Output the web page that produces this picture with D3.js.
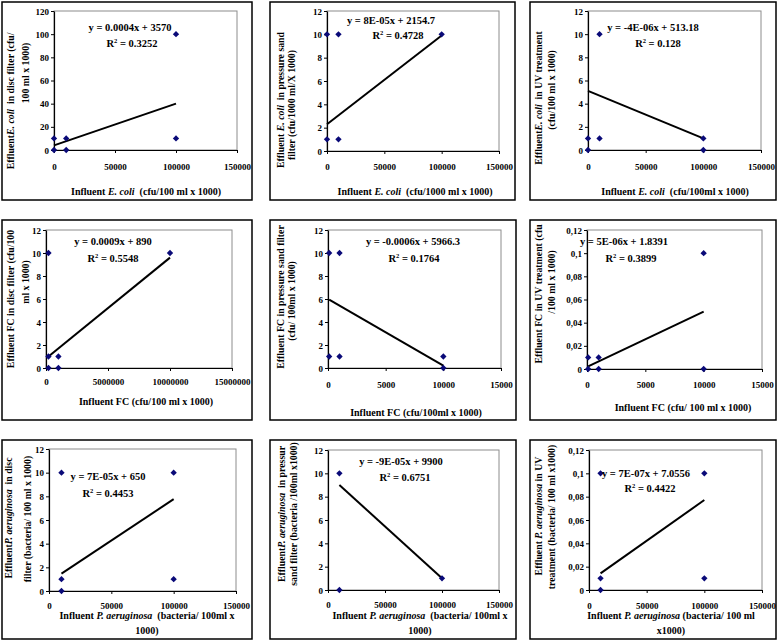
<!DOCTYPE html>
<html><head><meta charset="utf-8">
<script src="https://cdn.jsdelivr.net/npm/d3@7"></script>
<style>
body{margin:0;background:#fff}
svg{display:block}
text{font-family:"Liberation Serif","Times New Roman",serif;font-weight:bold;white-space:pre;fill:#000}
</style>
</head><body><svg id="c" width="778" height="641"></svg>
<script>
// ---------- tick values ----------
const ticksX150k = [0, 50000, 100000, 150000];
const ticksX15k = [0, 5000, 10000, 15000];
const ticksX15M = [0, 5000000, 10000000, 15000000];
const ticksY120 = [0, 20, 40, 60, 80, 100, 120];
const ticksY12 = [0, 2, 4, 6, 8, 10, 12];
const ticksY012 = [0, 0.02, 0.04, 0.06, 0.08, 0.1, 0.12];

// ---------- series (influent x, effluent y, trendline end points) ----------
const ecoliDiscX = [0, 0, 10000, 10000, 100000, 100000];
const ecoliDiscY = [10, 0, 10, 0, 100, 10];
const ecoliDiscTrend = [[0, 4], [100000, 40]];

const ecoliSandX = [0, 10000, 0, 10000, 100000];
const ecoliSandY = [10, 10, 1, 1, 10];
const ecoliSandTrend = [[0, 2.3], [100000, 9.9]];

const ecoliUvX = [0, 0, 10000, 10000, 100000, 100000];
const ecoliUvY = [1, 0, 10, 1, 1, 0];
const ecoliUvTrend = [[0, 5.1], [100000, 1.0]];

const fcDiscX = [200000, 200000, 200000, 1000000, 1000000, 10000000];
const fcDiscY = [10, 1, 0, 1, 0, 10];
const fcDiscTrend = [[200000, 1.0], [10000000, 9.6]];

const fcSandX = [100, 1000, 100, 1000, 10000, 10000];
const fcSandY = [10, 10, 1, 1, 1, 0];
const fcSandTrend = [[100, 5.95], [10000, 0.2]];

const fcUvX = [100, 100, 1000, 1000, 10000, 10000];
const fcUvY = [0.01, 0, 0.01, 0, 0.1, 0];
const fcUvTrend = [[100, 0.0023], [10000, 0.0495]];

const paDiscX = [10000, 10000, 10000, 100000, 100000];
const paDiscY = [10, 1, 0, 10, 1];
const paDiscTrend = [[10000, 1.47], [100000, 7.76]];

const paSandX = [10000, 10000, 100000];
const paSandY = [10, 0, 1];
const paSandTrend = [[10000, 9.0], [100000, 1.0]];

const paUvX = [10000, 10000, 10000, 100000, 100000];
const paUvY = [0.1, 0.01, 0, 0.1, 0.01];
const paUvTrend = [[10000, 0.0143], [100000, 0.0771]];

// ---------- text ----------
const equations = ["y = 0.0004x + 3570", "y = 8E-05x + 2154.7", "y = -4E-06x + 513.18",
  "y = 0.0009x + 890", "y = -0.0006x + 5966.3", "y = 5E-06x + 1.8391",
  "y = 7E-05x + 650", "y = -9E-05x + 9900", "y = 7E-07x + 7.0556"];
const rSquared = ["0.3252", "0.4728", "0.128", "0.5548", "0.1764", "0.3899", "0.4453", "0.6751", "0.4422"];

// segments: [text, italic]
const yTitles = [
  [[["Effluent", 0], ["E. coli", 1], ["  in disc filter (cfu/", 0]], [["100 ml x 1000)", 0]]],
  [[["Effluent ", 0], ["E. coli", 1], ["  in pressure sand", 0]], [["filter (cfu/1000 ml/X 1000)", 0]]],
  [[["Effluent", 0], ["E. coli", 1], ["  in UV treatment", 0]], [["(cfu/100 ml x 1000)", 0]]],
  [[["Effluent FC in disc filter (cfu/100", 0]], [["ml x 1000)", 0]]],
  [[["Effluent FC in pressure sand filter", 0]], [["(cfu/ 100ml x 1000)", 0]]],
  [[["Effluent FC in UV treatment (cfu", 0]], [["/100 ml x 1000)", 0]]],
  [[["Effluent", 0], ["P. aeruginosa", 1], ["  in disc", 0]], [["filter (bacteria/ 100 ml x 1000)", 0]]],
  [[["Effluent", 0], ["P. aeruginosa", 1], ["  in pressur", 0]], [["sand filter (bacteria /100ml x1000)", 0]]],
  [[["Effluent ", 0], ["P. aeruginosa", 1], [" in UV", 0]], [["treatment (bacteria/ 100 ml x1000)", 0]]]
];
const xTitles = [
  [[["Influent ", 0], ["E. coli", 1], ["  (cfu/100 ml x 1000)", 0]]],
  [[["Influent ", 0], ["E. coli", 1], ["  (cfu/1000 ml x 1000)", 0]]],
  [[["Influent ", 0], ["E. coli", 1], ["  (cfu/100ml x 1000)", 0]]],
  [[["Influent FC (cfu/100 ml x 1000)", 0]]],
  [[["Influent FC (cfu/100ml x 1000)", 0]]],
  [[["Influent FC (cfu/ 100 ml x 1000)", 0]]],
  [[["Influent ", 0], ["P. aeruginosa", 1], ["  (bacteria/ 100ml x", 0]], [["1000)", 0]]],
  [[["Influent ", 0], ["P. aeruginosa", 1], ["  (bacteria/ 100ml x", 0]], [["1000)", 0]]],
  [[["Influent ", 0], ["P. aeruginosa", 1], [" (bacteria/ 100 ml", 0]], [["x1000)", 0]]]
];

// ---------- panel assembly ----------
const series = [
  [ecoliDiscX, ecoliDiscY, ecoliDiscTrend, ticksX150k, ticksY120],
  [ecoliSandX, ecoliSandY, ecoliSandTrend, ticksX150k, ticksY12],
  [ecoliUvX, ecoliUvY, ecoliUvTrend, ticksX150k, ticksY12],
  [fcDiscX, fcDiscY, fcDiscTrend, ticksX15M, ticksY12],
  [fcSandX, fcSandY, fcSandTrend, ticksX15k, ticksY12],
  [fcUvX, fcUvY, fcUvTrend, ticksX15k, ticksY012],
  [paDiscX, paDiscY, paDiscTrend, ticksX150k, ticksY12],
  [paSandX, paSandY, paSandTrend, ticksX150k, ticksY12],
  [paUvX, paUvY, paUvTrend, ticksX150k, ticksY012]
];

// layout (positions only)
const layout = [
  {box:[2,2,252,200], plot:[54,237,11,150], eq:[130,31], r2:[132,47], tdy:20,
   yt:[[10,101],[25,73]], xt:[[146,195]]},
  {box:[270,2,515,200], plot:[327,499,11,151], eq:[391,24], r2:[398,39], tdy:19,
   yt:[[280,100],[291,105]], xt:[[415,195]]},
  {box:[530,2,776,200], plot:[588,761,11,150], eq:[653,31], r2:[658,47], tdy:20,
   yt:[[538,98],[551,90]], xt:[[675,195]]},
  {box:[2,220,252,420], plot:[46,232,230,368], eq:[113,245], r2:[113,262], tdy:17,
   yt:[[10,299],[25,282]], xt:[[146,405]]},
  {box:[270,220,516,420], plot:[328,501,230,368], eq:[413,245], r2:[414,262], tdy:20,
   yt:[[280,297],[291,301]], xt:[[416,416]]},
  {box:[530,220,776,420], plot:[587,762,230,369], eq:[624,245], r2:[631,262], tdy:19,
   yt:[[538,294],[551,282]], xt:[[683,411]]},
  {box:[2,440,252,639], plot:[49,236,449,591], eq:[108,480], r2:[108,497], tdy:18,
   yt:[[8,518],[27,519]], xt:[[147,619],[147,634]]},
  {box:[270,440,516,639], plot:[328,499,450,590], eq:[401,465], r2:[405,481], tdy:18,
   yt:[[281,514],[293,514]], xt:[[420,619],[420,634]]},
  {box:[530,440,776,639], plot:[589,762,450,590], eq:[646,477], r2:[650,492], tdy:19,
   yt:[[538,516],[551,517]], xt:[[671,619],[671,634]]}
];

const svg = d3.select("#c");
const defs = svg.append("defs");
const commaFmt = v => (v === 0 ? "0" : String(v).replace(".", ","));
const intFmt = d3.format("d");

function addSegs(textSel, segs) {
  segs.forEach(([t, it]) => {
    const ts = textSel.append("tspan").text(t);
    if (it) ts.style("font-style", "italic");
  });
}

series.forEach(([xs, ys, trend, xTicks, yTicks], i) => {
  const L = layout[i];
  const [bx0, by0, bx1, by1] = L.box;
  const [pl, pr, pt, pb] = L.plot;

  defs.append("clipPath").attr("id", "clip" + i)
    .append("rect").attr("x", bx0).attr("y", by0).attr("width", bx1 - bx0).attr("height", by1 - by0);

  const g = svg.append("g").attr("clip-path", `url(#clip${i})`);

  const x = d3.scaleLinear().domain([xTicks[0], xTicks[xTicks.length - 1]]).range([pl, pr]);
  const y = d3.scaleLinear().domain([yTicks[0], yTicks[yTicks.length - 1]]).range([pb, pt]);
  const yFmt = yTicks[yTicks.length - 1] < 1 ? commaFmt : intFmt;

  // plot area border (gray)
  g.append("rect").attr("x", pl).attr("y", pt).attr("width", pr - pl).attr("height", pb - pt)
    .attr("fill", "#fff").attr("stroke", "#8c8c8c").attr("stroke-width", 1);

  // axes
  const ax = g.append("g").attr("transform", `translate(0,${pb})`)
    .call(d3.axisBottom(x).tickValues(xTicks).tickFormat(intFmt).tickSizeInner(3).tickSizeOuter(0).tickPadding(L.tdy - 9.5));
  const ay = g.append("g").attr("transform", `translate(${pl},0)`)
    .call(d3.axisLeft(y).tickValues(yTicks).tickFormat(yFmt).tickSizeInner(3).tickSizeOuter(0).tickPadding(2));
  [ax, ay].forEach(a => {
    a.select(".domain").attr("stroke", "#000").attr("stroke-width", 1.2);
    a.selectAll(".tick line").attr("stroke", "#000");
    a.selectAll(".tick text").attr("font-family", "Liberation Serif").attr("font-weight", "bold")
      .attr("font-size", 9).attr("fill", "#000");
  });
  ay.selectAll(".tick text").attr("dy", "0.35em");

  // trendline
  g.append("path").attr("d", d3.line().x(d => x(d[0])).y(d => y(d[1]))(trend))
    .attr("stroke", "#000").attr("stroke-width", 2).attr("fill", "none");

  // markers
  const sym = d3.symbol().type(d3.symbolSquare).size(20);
  g.selectAll(".pt").data(xs.map((v, k) => [v, ys[k]])).enter().append("path")
    .attr("d", sym)
    .attr("transform", d => `translate(${x(d[0])},${y(d[1])}) rotate(45)`)
    .attr("fill", "#0a0a78");

  // equation & R^2
  g.append("text").attr("x", L.eq[0]).attr("y", L.eq[1]).attr("text-anchor", "middle")
    .attr("font-size", 10.5).text(equations[i]);
  const r = g.append("text").attr("x", L.r2[0]).attr("y", L.r2[1]).attr("text-anchor", "middle")
    .attr("font-size", 10.5);
  r.append("tspan").text("R");
  r.append("tspan").attr("font-size", 6.5).attr("dy", -4).text("2");
  r.append("tspan").attr("dy", 4).text(" = " + rSquared[i]);

  // y title
  yTitles[i].forEach((segs, k) => {
    const [tx, ty] = L.yt[k];
    const t = g.append("text").attr("transform", `translate(${tx},${ty}) rotate(-90)`)
      .attr("text-anchor", "middle").attr("dominant-baseline", "central").attr("font-size", 9.8);
    addSegs(t, segs);
  });
  // x title
  xTitles[i].forEach((segs, k) => {
    const [tx, ty] = L.xt[k];
    const t = g.append("text").attr("x", tx).attr("y", ty).attr("text-anchor", "middle").attr("font-size", 10);
    addSegs(t, segs);
  });

  // outer chart border
  svg.append("rect").attr("x", bx0).attr("y", by0).attr("width", bx1 - bx0).attr("height", by1 - by0)
    .attr("fill", "none").attr("stroke", "#000").attr("stroke-width", 1.5);
});
</script>
</body></html>
